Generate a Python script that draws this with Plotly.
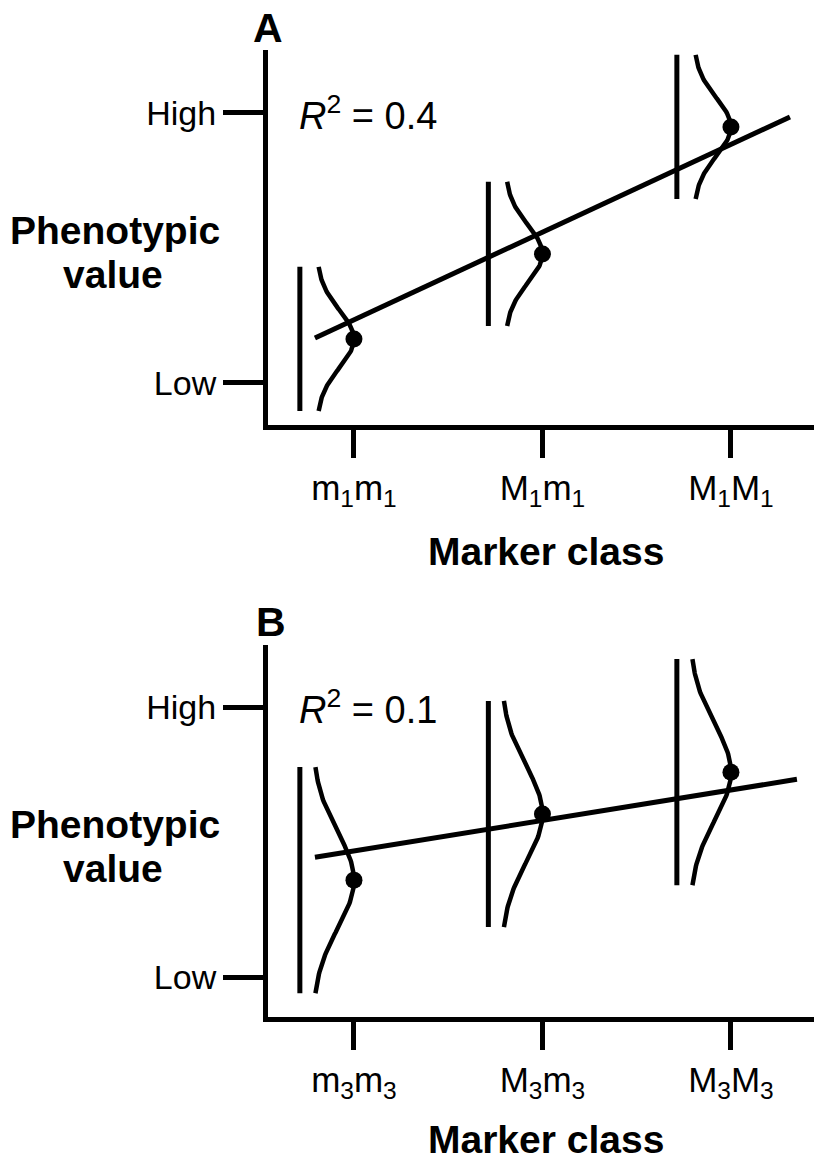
import numpy as np
import plotly.graph_objects as go

# ---------------- data ----------------
class_pos = [0, 1, 2]
classes_A = ["m<sub>1</sub>m<sub>1</sub>", "M<sub>1</sub>m<sub>1</sub>", "M<sub>1</sub>M<sub>1</sub>"]
classes_B = ["m<sub>3</sub>m<sub>3</sub>", "M<sub>3</sub>m<sub>3</sub>", "M<sub>3</sub>M<sub>3</sub>"]

# class means on the phenotypic scale (Low = 0, High = 10)
means_A = [1.63, 4.78, 9.48]
means_B = [3.59, 6.04, 7.59]

# spread of each class distribution
sd_A, sd_B = 1.07, 1.78
halfrange_A, halfrange_B = 2.67, 4.19
# drawn width of density curves (in class-axis units)
amp_A, amp_B = 0.196, 0.218
bar_offset = -0.287

# regression lines
reg_A = {"slope": 3.246, "intercept": 2.34, "x0": -0.207, "x1": 2.313}
reg_B = {"slope": 1.13, "intercept": 4.67, "x0": -0.207, "x1": 2.35}

r2_A, r2_B = "0.4", "0.1"
y_tickvals = [0, 10]
y_ticktext = ["Low", "High"]

FONT = "Liberation Sans, Arial, sans-serif"
PAGE_OFF = 8            # default body margin of the page
W, H = 822 - PAGE_OFF, 1162 - 2 * PAGE_OFF
LW = 5

fig = go.Figure()


def add_panel(fig, xa, ya, means, sd, hr, amp, reg):
    for c, mu in zip(class_pos, means):
        # vertical range bar
        fig.add_trace(go.Scatter(x=[c + bar_offset, c + bar_offset], y=[mu - hr, mu + hr],
                                 mode="lines", line=dict(color="black", width=LW),
                                 xaxis=xa, yaxis=ya, hoverinfo="skip"))
        # density curve
        yy = np.linspace(mu - hr, mu + hr, 120)
        xx = c - amp + amp * np.exp(-0.5 * ((yy - mu) / sd) ** 2)
        fig.add_trace(go.Scatter(x=xx, y=yy, mode="lines",
                                 line=dict(color="black", width=LW - 0.5),
                                 xaxis=xa, yaxis=ya, hoverinfo="skip"))
    # regression line
    rx = [reg["x0"], reg["x1"]]
    ry = [reg["intercept"] + reg["slope"] * v for v in rx]
    fig.add_trace(go.Scatter(x=rx, y=ry, mode="lines", line=dict(color="black", width=LW),
                             xaxis=xa, yaxis=ya, hoverinfo="skip"))
    # class means
    fig.add_trace(go.Scatter(x=class_pos, y=means, mode="markers",
                             marker=dict(color="black", size=17),
                             xaxis=xa, yaxis=ya, hoverinfo="skip"))


add_panel(fig, "x", "y", means_A, sd_A, halfrange_A, amp_A, reg_A)
add_panel(fig, "x2", "y2", means_B, sd_B, halfrange_B, amp_B, reg_B)


def px_x(p):
    return (p - PAGE_OFF) / W


def px_y(p):
    return 1 - (p - PAGE_OFF) / H


xrange_ = [-0.456, 2.483]
common_x = dict(range=xrange_, showline=True, linecolor="black", linewidth=LW,
                ticks="outside", ticklen=28, tickwidth=LW, tickcolor="black",
                tickvals=class_pos, showgrid=False, zeroline=False, fixedrange=True,
                tickfont=dict(family=FONT, size=35, color="black"))
common_y = dict(showline=True, linecolor="black", linewidth=LW,
                ticks="outside", ticklen=40, tickwidth=LW, tickcolor="black",
                tickvals=y_tickvals, ticktext=y_ticktext, showgrid=False,
                zeroline=False, fixedrange=True,
                tickfont=dict(family=FONT, size=34, color="black"))

fig.update_layout(
    width=W, height=H, margin=dict(l=0, r=0, t=0, b=0, autoexpand=False),
    paper_bgcolor="white", plot_bgcolor="white", showlegend=False,
    xaxis=dict(domain=[px_x(268), 1.0], anchor="y", ticktext=classes_A, **common_x),
    yaxis=dict(domain=[px_y(425), px_y(50)], anchor="x", range=[-1.556, 12.33], **common_y),
    xaxis2=dict(domain=[px_x(268), 1.0], anchor="y2", ticktext=classes_B, **common_x),
    yaxis2=dict(domain=[px_y(1017), px_y(645)], anchor="x2", range=[-1.48, 12.30], **common_y),
)

bold = dict(family=FONT, size=39, color="black")
ann = []


def label(text, x, y, font):
    return dict(text=text, x=px_x(x), y=px_y(y), xref="paper", yref="paper",
                xanchor="center", yanchor="middle", showarrow=False, font=font)


# panel letters
ann.append(label("<b>A</b>", 268, 28, dict(family=FONT, size=41, color="black")))
ann.append(label("<b>B</b>", 271, 622, dict(family=FONT, size=41, color="black")))
# y titles
for top in (0, 594):
    ann.append(label("<b>Phenotypic</b>", 115, 230 + top, bold))
    ann.append(label("<b>value</b>", 113, 274 + top, bold))
# x titles
ann.append(label("<b>Marker class</b>", 546, 551, bold))
ann.append(label("<b>Marker class</b>", 546, 1139, bold))
# R^2 labels
for xr, yr, r2 in (("x", "y", r2_A), ("x2", "y2", r2_B)):
    ann.append(dict(text="<i>R</i><sup>2</sup> = " + r2, x=-0.302, y=10.0, xref=xr, yref=yr,
                    xanchor="left", yanchor="middle", showarrow=False,
                    font=dict(family=FONT, size=38, color="black")))
fig.update_layout(annotations=ann)

fig.write_html("out.html")
